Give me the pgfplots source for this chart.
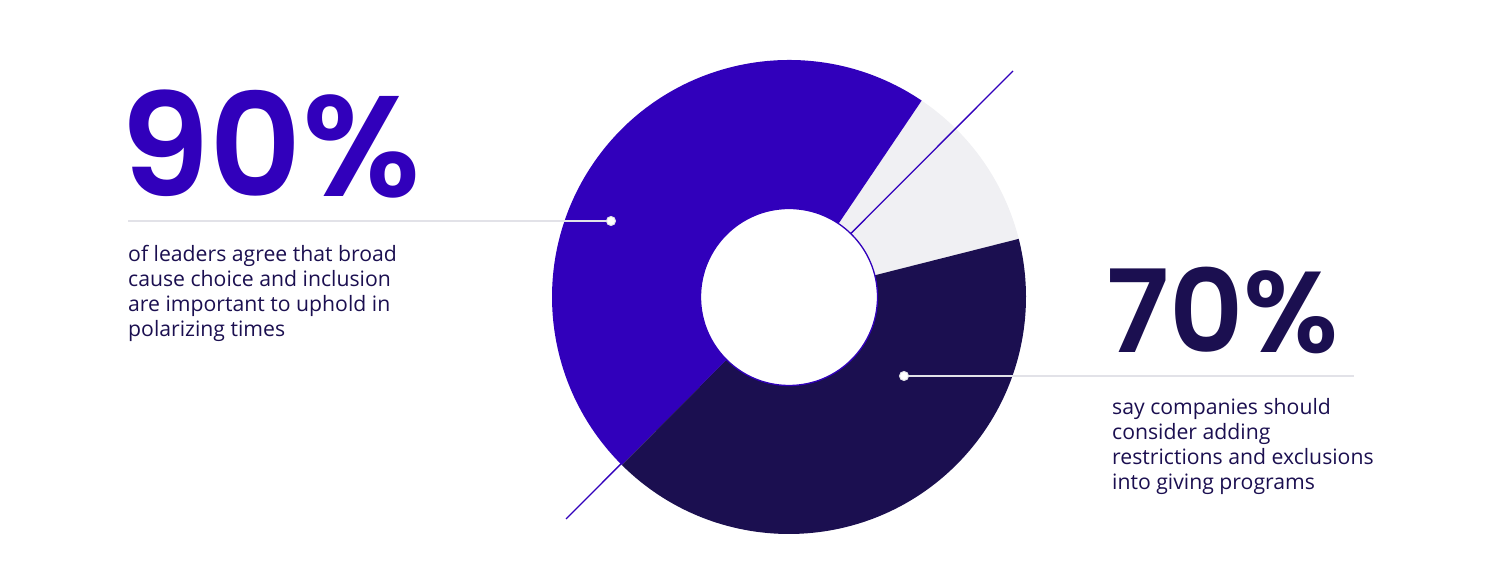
\documentclass[border=0pt]{standalone}
\usepackage{pgfplots}
\pgfplotsset{compat=1.18}
\usepackage{pgfplotstable}
\usepackage{fontspec}
\setmainfont{Open Sans}
\newfontfamily\bigfont{Poppins}[UprightFont={* SemiBold}]
\definecolor{vio}{RGB}{49,0,187}
\definecolor{navy}{RGB}{27,15,80}
\definecolor{lgrey}{RGB}{240,240,243}
\definecolor{rulec}{RGB}{226,226,232}
\begin{document}
\begin{tikzpicture}
\pgfplotstableread{
seg pct
grey 11.6
violet 47.0
navy 41.4
}\donut
\pgfplotstablegetelem{0}{pct}\of\donut \let\pA\pgfplotsretval
\pgfplotstablegetelem{1}{pct}\of\donut \let\pB\pgfplotsretval
\pgfplotstablegetelem{2}{pct}\of\donut \let\pC\pgfplotsretval
\pgfmathsetmacro\aA{14.2}
\pgfmathsetmacro\aB{\aA+3.6*\pA}
\pgfmathsetmacro\aC{\aB+3.6*\pB}
\pgfmathsetmacro\aD{\aC+3.6*\pC}
\begin{axis}[x=1pt,y=1pt,xmin=0,xmax=1500,ymin=0,ymax=561,
  hide axis, clip=false, scale only axis]
\path (axis cs:0,0) rectangle (axis cs:1500,561);
% donut sectors
\fill[lgrey] (axis cs:789,264) -- ++(\aA:237pt) arc[start angle=\aA, end angle=\aB, radius=237pt] -- cycle;
\fill[vio] (axis cs:789,264) -- ++(\aB:237pt) arc[start angle=\aB, end angle=\aC, radius=237pt] -- cycle;
\fill[navy] (axis cs:789,264) -- ++(\aC:237pt) arc[start angle=\aC, end angle=\aD, radius=237pt] -- cycle;
% diagonal line
\addplot[vio, line width=1.3pt, forget plot] coordinates {(566,42) (1013,490)};
% hole
\fill[white, draw=vio, line width=1.3pt] (axis cs:789,264) circle[radius=88.5pt];
% leader lines
\addplot[rulec, line width=2pt, forget plot] coordinates {(128,340) (611,340)};
\addplot[rulec, line width=2pt, forget plot] coordinates {(904,185) (1354,185)};
\addplot[only marks, mark=*, mark size=4.5pt, mark options={fill=white, draw=rulec, line width=1pt}, forget plot] coordinates {(611,340) (904,185)};
% texts
\node[anchor=base west, inner sep=0, text=vio, font=\bigfont\fontsize{143}{143}\selectfont] at (axis cs:120,364) {90\%};
\node[anchor=base west, inner sep=0, text=navy, font=\bigfont\fontsize{115}{115}\selectfont] at (axis cs:1106,208) {70\%};
\begin{scope}[every node/.style={anchor=base west, inner sep=0, text=navy, font=\fontsize{21.2}{25}\selectfont}]
\node at (axis cs:128,299) {of leaders agree that broad};
\node at (axis cs:128,274) {cause choice and inclusion};
\node at (axis cs:128,249) {are important to uphold in};
\node at (axis cs:128,224) {polarizing times};
\node at (axis cs:1112,146) {say companies should};
\node at (axis cs:1112,121) {consider adding};
\node at (axis cs:1112,96) {restrictions and exclusions};
\node at (axis cs:1112,71) {into giving programs};
\end{scope}
\end{axis}
\end{tikzpicture}
\end{document}
